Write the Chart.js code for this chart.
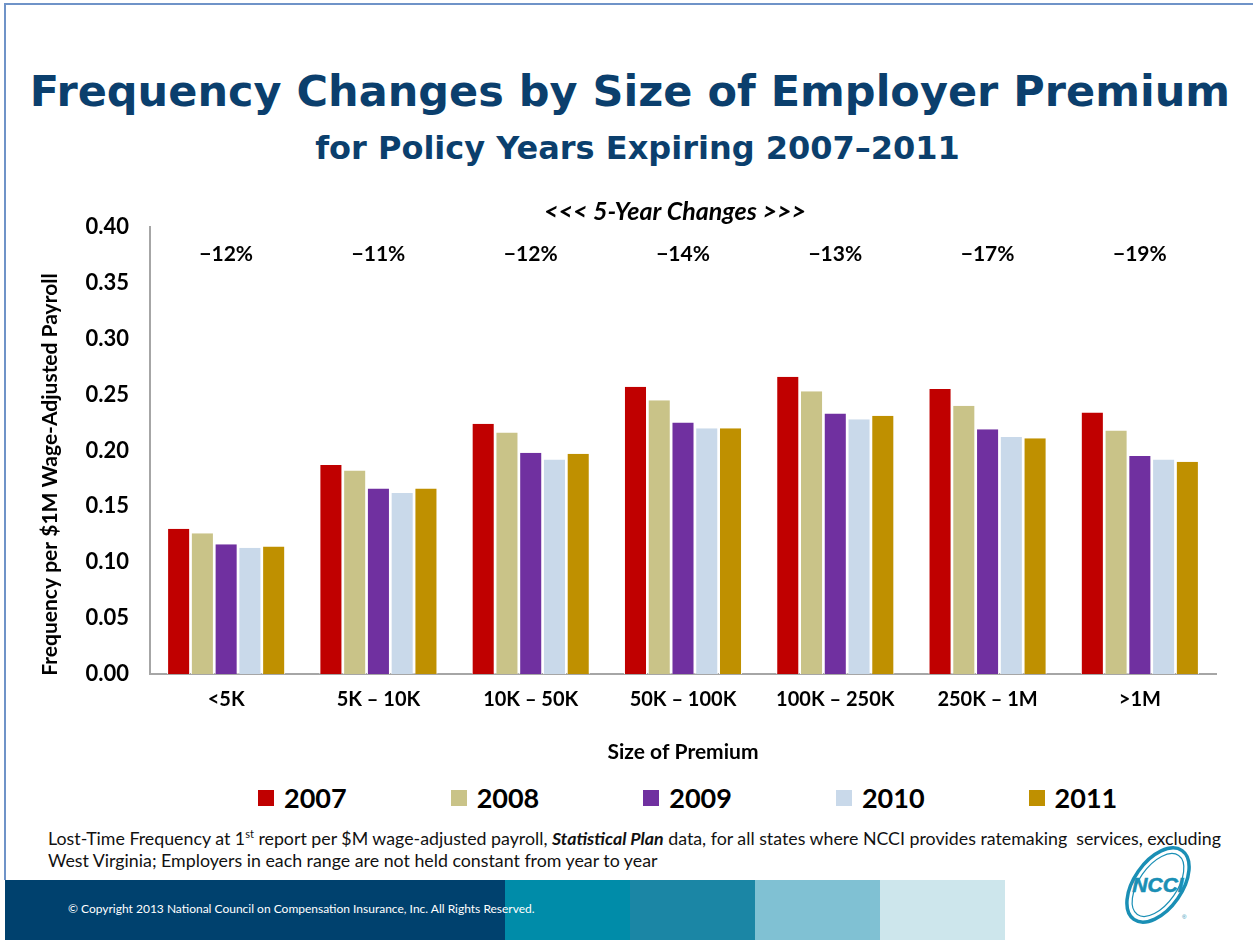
<!DOCTYPE html>
<html>
<head>
<meta charset="utf-8">
<script src="https://cdn.jsdelivr.net/npm/chart.js@4/dist/chart.umd.min.js"></script>
<style>
  html, body { margin: 0; padding: 0; background: #fff; }
  body { width: 1253px; height: 940px; position: relative; overflow: hidden; font-family: Lato, sans-serif; }
  .frame-top { position: absolute; left: 4px; top: 3px; width: 1249px; height: 2px; background: #6F93C8; }
  .frame-left { position: absolute; left: 4px; top: 3px; width: 2px; height: 877px; background: #6F93C8; }
  h1 { position: absolute; left: 0; top: 66px; width: 1260px; margin: 0; text-align: center;
       font-family: "DejaVu Sans", Verdana, sans-serif; font-weight: bold; font-size: 43px; color: #0B3F6D; }
  h2 { position: absolute; left: 0; top: 129px; width: 1275px; margin: 0; text-align: center;
       font-family: "DejaVu Sans", Verdana, sans-serif; font-weight: bold; font-size: 32px; color: #0B3F6D; }
  #wrap { position: absolute; left: 0; top: 190px; width: 1253px; height: 580px; }
  #legend { position: absolute; left: 258px; top: 781px; display: flex; gap: 104px; }
  #legend .item { display: flex; align-items: center; font-weight: bold; font-size: 27px; color: #000; }
  #legend .box { width: 16px; height: 16px; margin-right: 10px; }
  .note { position: absolute; left: 48px; top: 823px; width: 1200px; font-size: 17.8px; line-height: 22px; color: #111; white-space: nowrap; }
  .band { position: absolute; top: 880px; height: 60px; }
  .copy { position: absolute; left: 68px; top: 901px; font-size: 12px; color: #fff; }
</style>
</head>
<body>
<div class="frame-top"></div>
<div class="frame-left"></div>
<h1>Frequency Changes by Size of Employer Premium</h1>
<h2>for Policy Years Expiring 2007&#8211;2011</h2>
<div id="wrap"><canvas id="myChart" width="1253" height="580"></canvas></div>
<div id="legend"></div>
<div class="note">Lost-Time Frequency at 1<sup style="font-size:11px">st</sup> report per $M wage-adjusted payroll, <b><i>Statistical Plan</i></b> data, for all states where NCCI provides ratemaking&nbsp; services, excluding<br>West Virginia; Employers in each range are not held constant from year to year</div>
<div class="band" style="left:5px;width:500px;background:#00416E"></div>
<div class="band" style="left:505px;width:125px;background:#008CA9"></div>
<div class="band" style="left:630px;width:125px;background:#1B86A5"></div>
<div class="band" style="left:755px;width:125px;background:#80C1D3"></div>
<div class="band" style="left:880px;width:125px;background:#CDE6EC"></div>
<div class="copy">&copy; Copyright 2013 National Council on Compensation Insurance, Inc. All Rights Reserved.</div>
<svg style="position:absolute;left:1110px;top:845px" width="100" height="90" viewBox="0 0 100 90">
  <ellipse cx="48" cy="40" rx="42" ry="24" transform="rotate(-55 48 40)" fill="none" stroke="#1A8FB5" stroke-width="3.5"/>
  <ellipse cx="48" cy="40" rx="36" ry="19" transform="rotate(-55 48 40)" fill="none" stroke="#1A8FB5" stroke-width="1.2"/>
  <text x="48" y="47" text-anchor="middle" font-family="Liberation Sans" font-weight="bold" font-style="italic" font-size="21" fill="#1A8FB5" stroke="#1A8FB5" stroke-width="0.6">NCCI</text>
  <text x="72" y="74" font-family="Liberation Sans" font-size="6" fill="#1A8FB5">&#174;</text>
</svg>
<script>
const categories = ['<5K', '5K \u2013 10K', '10K \u2013 50K', '50K \u2013 100K', '100K \u2013 250K', '250K \u2013 1M', '>1M'];
const years = ['2007', '2008', '2009', '2010', '2011'];
const freq2007 = [0.130, 0.187, 0.224, 0.257, 0.266, 0.255, 0.234];
const freq2008 = [0.126, 0.182, 0.216, 0.245, 0.253, 0.240, 0.218];
const freq2009 = [0.116, 0.166, 0.198, 0.225, 0.233, 0.219, 0.195];
const freq2010 = [0.113, 0.162, 0.192, 0.220, 0.228, 0.212, 0.192];
const freq2011 = [0.114, 0.166, 0.197, 0.220, 0.231, 0.211, 0.190];
const fiveYearChanges = ['\u221212%', '\u221211%', '\u221212%', '\u221214%', '\u221213%', '\u221217%', '\u221219%'];
const yTicks = [0, 0.05, 0.10, 0.15, 0.20, 0.25, 0.30, 0.35, 0.40];

const colors = ['#C00000', '#C9C388', '#7030A0', '#C9D9EA', '#BF9000'];
const series = [freq2007, freq2008, freq2009, freq2010, freq2011];

// draws the 5-year change labels over each category, and the y axis title
const changeLabels = {
  id: 'changeLabels',
  afterDatasetsDraw(chart) {
    const c = chart.ctx;
    const x = chart.scales.x;
    const area = chart.chartArea;
    c.save();
    c.fillStyle = '#000';
    c.textAlign = 'center';
    c.textBaseline = 'middle';
    c.font = 'italic bold 25px Lato';
    c.fillText('<<< 5-Year Changes >>>', (area.left + area.right) / 2 - 8, area.top - 15);
    c.font = 'bold 21px Lato';
    fiveYearChanges.forEach((t, i) => {
      c.fillText(t, x.getPixelForValue(i), area.top + 27);
    });
    // y title sits a little below the plot centre in the original
    c.translate(50, (area.top + area.bottom) / 2 + 24);
    c.rotate(-Math.PI / 2);
    c.font = 'bold 21px Lato';
    c.fillText('Frequency per $1M Wage-Adjusted Payroll', 0, 0);
    c.restore();
  }
};

// legend as html, filled from the chart's own legend items
const htmlLegend = {
  id: 'htmlLegend',
  afterUpdate(chart) {
    const el = document.getElementById('legend');
    el.innerHTML = '';
    const items = chart.options.plugins.legend.labels.generateLabels(chart);
    items.forEach(it => {
      const d = document.createElement('div');
      d.className = 'item';
      d.innerHTML = '<span class="box" style="background:' + it.fillStyle + '"></span>' + it.text;
      el.appendChild(d);
    });
  }
};

const ctx = document.getElementById('myChart').getContext('2d');
new Chart(ctx, {
  type: 'bar',
  data: {
    labels: categories,
    datasets: years.map((y, i) => ({
      label: y,
      data: series[i],
      backgroundColor: colors[i],
      borderColor: '#ffffff',
      borderWidth: { top: 0, left: 1, right: 1, bottom: 0 },
      barPercentage: 0.97,
      categoryPercentage: 0.78
    }))
  },
  options: {
    responsive: false,
    animation: false,
    layout: { padding: { left: 30, right: 37, top: 37, bottom: 0 } },
    plugins: {
      legend: { display: false },
      tooltip: { enabled: false }
    },
    scales: {
      y: {
        min: 0, max: 0.4,
        afterBuildTicks(s) { s.ticks = yTicks.map(v => ({ value: v })); },
        afterFit(s) { s.width = 120; },
        grid: { display: false, drawTicks: false },
        border: { color: '#A6A6A6', width: 2 },
        ticks: {
          padding: 21, color: '#000',
          font: { family: 'Lato', weight: 'bold', size: 22 },
          callback: v => v.toFixed(2)
        },
        title: { display: false }
      },
      x: {
        afterFit(s) { s.height = 96; },
        grid: { display: false, drawTicks: false },
        border: { color: '#A6A6A6', width: 2 },
        ticks: { padding: 14, color: '#000', font: { family: 'Lato', weight: 'bold', size: 20 } },
        title: {
          display: true, text: 'Size of Premium', color: '#000',
          font: { family: 'Lato', weight: 'bold', size: 21 }, padding: { top: 0, bottom: 5 }
        }
      }
    }
  },
  plugins: [changeLabels, htmlLegend]
});
</script>
</body>
</html>
